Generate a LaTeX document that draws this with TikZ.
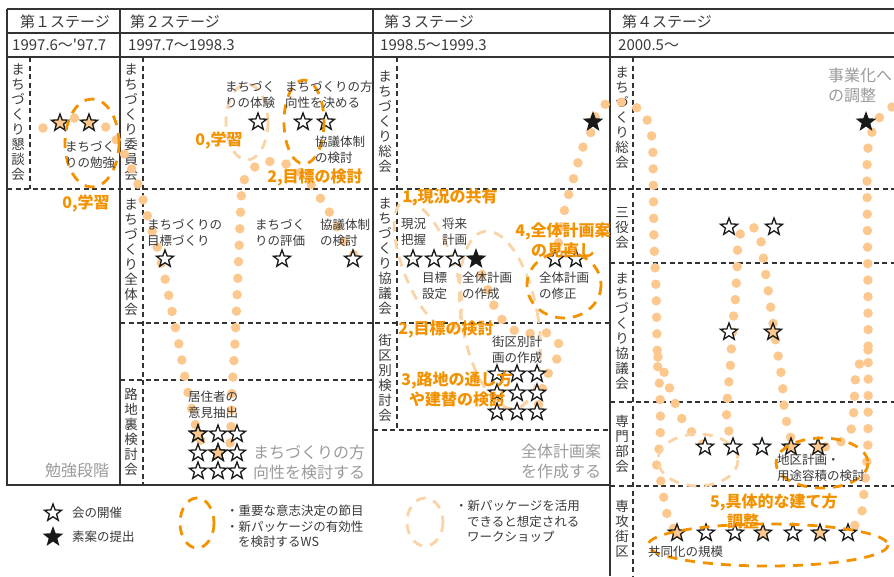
\documentclass[tikz,border=0pt]{standalone}
\usepackage{fontspec}
\newfontfamily\cjk{Noto Sans CJK JP}
\usetikzlibrary{shapes.geometric}
\definecolor{txt}{HTML}{3A3A3A}
\definecolor{grayt}{HTML}{9B9B9B}
\definecolor{org}{HTML}{F39200}
\definecolor{dotc}{HTML}{FCC88E}
\definecolor{lightd}{HTML}{FAD3A6}
\definecolor{linec}{HTML}{333333}
\tikzset{
 frame/.style={draw=linec, line width=1.4pt},
 gdash/.style={draw=linec, line width=1.3pt, dash pattern=on 5pt off 3.5pt},
 vlab/.style={font=\cjk\fontsize{13.5}{15}\selectfont, text=txt, align=center, inner sep=0pt},
 lbl/.style={font=\cjk\fontsize{12.5}{16}\selectfont, text=txt, align=left, inner sep=0pt, anchor=west},
 leg/.style={font=\cjk\fontsize{12.5}{15.5}\selectfont, text=txt, align=left, inner sep=0pt, anchor=north west},
 hdr/.style={font=\cjk\fontsize{15}{18}\selectfont, text=txt, inner sep=0pt, anchor=west},
 olbl/.style={font=\cjk\bfseries\fontsize{16}{20}\selectfont, text=org, align=center, inner sep=0pt},
 glbl/.style={font=\cjk\fontsize{16}{20}\selectfont, text=grayt, align=left, inner sep=0pt},
 ostar/.style={star, star points=5, star point ratio=2.4, minimum size=18pt, inner sep=0pt, draw=black!90, line width=1.3pt},
 wstar/.style={ostar, fill=white},
 fstar/.style={ostar, fill=dotc},
 bstar/.style={ostar, fill=black!90},
 dots/.style={draw=dotc, line width=9.5pt, line cap=round, dash pattern=on 0pt off 16.5pt},
 oell/.style={draw=org, line width=2.8pt, dash pattern=on 10pt off 8pt},
 lell/.style={draw=lightd, line width=2.8pt, dash pattern=on 10pt off 8pt},
}
\begin{document}
\begin{tikzpicture}[x=1pt,y=-1pt]
\fill[white] (0,0) rectangle (894,576);
\useasboundingbox (0,0) rectangle (894,576);

% ---------- frame ----------
\draw[frame] (7,9) -- (894,9);
\draw[frame] (7,33) -- (894,33);
\draw[frame] (7,57) -- (894,57);
\draw[frame] (7,9) -- (7,485) -- (610,485);
\draw[frame] (120,9) -- (120,485);
\draw[frame] (373,9) -- (373,485);
\draw[frame] (610,9) -- (610,576);

% ---------- dashed grid ----------
\draw[gdash] (7,189) -- (894,189);
\draw[gdash] (120,323) -- (610,323);
\draw[gdash] (120,380) -- (373,380);
\draw[gdash] (373,430) -- (610,430);
\draw[gdash] (610,263) -- (894,263);
\draw[gdash] (610,402) -- (894,402);
\draw[gdash] (610,486) -- (894,486);
\draw[gdash] (30,57) -- (30,189);
\draw[gdash] (143,57) -- (143,485);
\draw[gdash] (397,57) -- (397,430);
\draw[gdash] (633,57) -- (633,576);

% ---------- headers ----------
\node[hdr] (h1) at (20,22) {第１ステージ};
\node[hdr] (d1) at (12,45) {1997.6〜'97.7};
\node[hdr] (h2) at (130,22) {第２ステージ};
\node[hdr] (d2) at (128,45) {1997.7〜1998.3};
\node[hdr] (h3) at (384,22) {第３ステージ};
\node[hdr] (d3) at (380,45) {1998.5〜1999.3};
\node[hdr] (h4) at (622,22) {第４ステージ};
\node[hdr] (d4) at (618,45) {2000.5〜};

% ---------- vertical row labels ----------
\node[vlab] (v1) at (18,122.5) {ま\\ち\\づ\\く\\り\\懇\\談\\会};
\node[vlab] (v2a) at (131,122.5) {ま\\ち\\づ\\く\\り\\委\\員\\会};
\node[vlab] (v2b) at (131,257.5) {ま\\ち\\づ\\く\\り\\全\\体\\会};
\node[vlab] (v2c) at (131,432) {路\\地\\裏\\検\\討\\会};
\node[vlab] (v3a) at (385,122) {ま\\ち\\づ\\く\\り\\総\\会};
\node[vlab] (v3b) at (385,256.5) {ま\\ち\\づ\\く\\り\\協\\議\\会};
\node[vlab] (v3c) at (385,378) {街\\区\\別\\検\\討\\会};
\node[vlab] (v4a) at (622,117.5) {ま\\ち\\づ\\く\\り\\総\\会};
\node[vlab] (v4b) at (622,228) {三\\役\\会};
\node[vlab] (v4c) at (622,331.5) {ま\\ち\\づ\\く\\り\\協\\議\\会};
\node[vlab] (v4d) at (622,443.5) {専\\門\\部\\会};
\node[vlab] (v4e) at (622,528.5) {専\\攻\\街\\区};

% ---------- dotted chains ----------
\draw[dots] plot[smooth, tension=0.6] coordinates {(43,128) (60,123) (75,118) (89,123) (107,128) (125,155) (139,187) (148,218) (158,250) (166,283) (173,316) (180,350) (186,383) (192,410) (198,434) (205,448)};
\draw[dots] plot[smooth, tension=0.6] coordinates {(230,443) (231,425) (232,392) (235,342) (238,274) (240,224) (242,190) (247,175) (261,163) (277,162) (293,167) (306,178) (315,190) (324,204) (333,218) (340,233) (350,252) (362,257)};
\draw[dots] plot[smooth, tension=0.6] coordinates {(476,259) (490,295) (500,317) (520,333) (547,333) (560,350) (545,380) (537,412)};
\draw[dots] plot[smooth, tension=0.6] coordinates {(555,259) (560,235) (563,217) (567,200) (572,184) (577,166) (583,147) (590,135) (593,122) (600,108) (612,102) (625,103) (640,110) (648,122) (652,138) (653,160) (654,240) (656,290) (657,341) (658,373) (660,392) (660,442) (656,460) (660,477) (663,493) (666,510) (670,523) (677,533)};
\draw[dots] plot[smooth, tension=0.6] coordinates {(733,447) (727,422) (727,405) (728,390) (730,371) (731,354) (732,338) (733,321) (735,304) (737,270) (739,237) (750,227) (759,233) (762,249) (767,283) (772,316) (777,349) (782,380) (785,415) (790,432) (791,447)};
\draw[dots] plot[smooth, tension=0.6] coordinates {(658,357) (663,369) (668,384) (680,415) (690,430) (705,447)};
\draw[dots] plot[smooth, tension=0.6] coordinates {(892,107) (879,118) (872,132) (868,148) (867,182) (868,300) (868,435) (866,470) (863,502) (860,518) (848,533)};
\draw[dots] plot[smooth, tension=0.6] coordinates {(868,350) (857,369) (855,385) (853,420) (848,435) (835,445) (818,447)};

% ---------- light dashed ellipses ----------
\draw[lell] (247,122) ellipse [x radius=21, y radius=38];
\draw[lell, rotate around={21:(428,265)}] (428,265) ellipse [x radius=25, y radius=68];
\draw[lell, rotate around={10:(500,320)}] (500,320) ellipse [x radius=38, y radius=90];
\draw[lell] (698,460) ellipse [x radius=40, y radius=26];

% ---------- stars ----------
\node[fstar] (s1a) at (60,123) {};
\node[fstar] (s1b) at (89,123) {};
\node[wstar] (s2a) at (258,122) {};
\node[wstar] (s2b) at (303,122) {};
\node[wstar] (s2c) at (326,122) {};
\node[wstar] (s2d) at (165,259) {};
\node[wstar] (s2e) at (282,259) {};
\node[wstar] (s2f) at (353,259) {};
\foreach \i/\x in {1/198,2/218,3/237}{
  \foreach \j/\y in {1/434,2/453,3/471}{
    \node[wstar] (r\i\j) at (\x,\y) {};
  }
}
\node[fstar] at (r11) {};
\node[fstar] at (r22) {};
\node[bstar] (s3a) at (593,122) {};
\node[wstar] (s3b) at (413,259) {};
\node[wstar] (s3c) at (434,259) {};
\node[wstar] (s3d) at (455,259) {};
\node[bstar] (s3e) at (476,259) {};
\node[wstar] (s3f) at (555,259) {};
\node[wstar] (s3g) at (576,259) {};
\foreach \i/\x in {1/497,2/517,3/537}{
  \foreach \j/\y in {1/374,2/393,3/412}{
    \node[wstar] (k\i\j) at (\x,\y) {};
  }
}
\node[bstar] (s4a) at (866,122) {};
\node[wstar] (s4b) at (729,227) {};
\node[wstar] (s4c) at (774,227) {};
\node[wstar] (s4d) at (729,332) {};
\node[fstar] (s4e) at (773,332) {};
\node[wstar] (p1) at (705,447) {};
\node[wstar] (p2) at (733,447) {};
\node[wstar] (p3) at (762,447) {};
\node[fstar] (p4) at (791,447) {};
\node[fstar] (p5) at (818,447) {};
\node[fstar] (q1) at (677,533) {};
\node[wstar] (q2) at (706,533) {};
\node[wstar] (q3) at (735,533) {};
\node[fstar] (q4) at (763,533) {};
\node[wstar] (q5) at (793,533) {};
\node[fstar] (q6) at (820,533) {};
\node[wstar] (q7) at (848,533) {};

% ---------- dark dashed ellipses ----------
\draw[oell] (92,143) ellipse [x radius=27, y radius=44];
\draw[oell] (304,122) ellipse [x radius=20, y radius=42];
\draw[oell] (564,285) ellipse [x radius=37, y radius=33];
\draw[oell] (822,463) ellipse [x radius=46, y radius=25];
\draw[oell] (768,545) ellipse [x radius=120, y radius=21];

% ---------- black labels ----------
\node[lbl] (t1) at (65,155) {まちづく\\りの勉強};
\node[lbl] (t2) at (225,95) {まちづく\\りの体験};
\node[lbl] (t3) at (285,95) {まちづくりの方\\向性を決める};
\node[lbl] (t4) at (315,150) {協議体制\\の検討};
\node[lbl] (t5) at (147,233) {まちづくりの\\目標づくり};
\node[lbl] (t6) at (255,233) {まちづく\\りの評価};
\node[lbl] (t7) at (320,233) {協議体制\\の検討};
\node[lbl] (t8) at (188,405) {居住者の\\意見抽出};
\node[lbl] (t9) at (401,232) {現況\\把握};
\node[lbl] (t10) at (442,232) {将来\\計画};
\node[lbl] (t11) at (422,286) {目標\\設定};
\node[lbl] (t12) at (462,286) {全体計画\\の作成};
\node[lbl] (t13) at (539,286) {全体計画\\の修正};
\node[lbl] (t14) at (492,350) {街区別計\\画の作成};
\node[lbl] (t15) at (777,468) {地区計画・\\用途容積の検討};
\node[lbl] (t16) at (648,552) {共同化の規模};

% ---------- orange labels ----------
\node[olbl] (o1) at (86,203) {0,学習};
\node[olbl] (o2) at (219,140) {0,学習};
\node[olbl] (o3) at (315,177) {2,目標の検討};
\node[olbl] (o4) at (450,197) {1,現況の共有};
\node[olbl] (o5) at (446,329) {2,目標の検討};
\node[olbl] (o6) at (457,389) {3,路地の通し方\\や建替の検討};
\node[olbl] (o7) at (563,240) {4,全体計画案\\の見直し};
\node[olbl, align=left, anchor=north west] (o8) at (710,494) {5,具体的な建て方\\\hspace{17pt}調整};

% ---------- gray labels ----------
\node[glbl, anchor=center] (g1) at (77,470) {勉強段階};
\node[glbl, anchor=west] (g2) at (253,462) {まちづくりの方\\向性を検討する};
\node[glbl, anchor=center, align=right] (g3) at (561,461) {全体計画案\\を作成する};
\node[glbl, anchor=west] (g4) at (828,85) {事業化へ\\の調整};

% ---------- legend ----------
\node[wstar] (ls1) at (53,513) {};
\node[bstar] (ls2) at (53,537) {};
\node[lbl] (lt1) at (72,513) {会の開催};
\node[lbl] (lt2) at (72,537) {素案の提出};
\draw[oell] (197,523) ellipse [x radius=17, y radius=25];
\node[leg] (lt3) at (226,505) {・重要な意志決定の節目\\・新パッケージの有効性\\\hspace{12pt}を検討するWS};
\draw[lell] (425,522) ellipse [x radius=18, y radius=24];
\node[leg] (lt4) at (455,500) {・新パッケージを活用\\\hspace{12pt}できると想定される\\\hspace{12pt}ワークショップ};
\end{tikzpicture}
\end{document}
